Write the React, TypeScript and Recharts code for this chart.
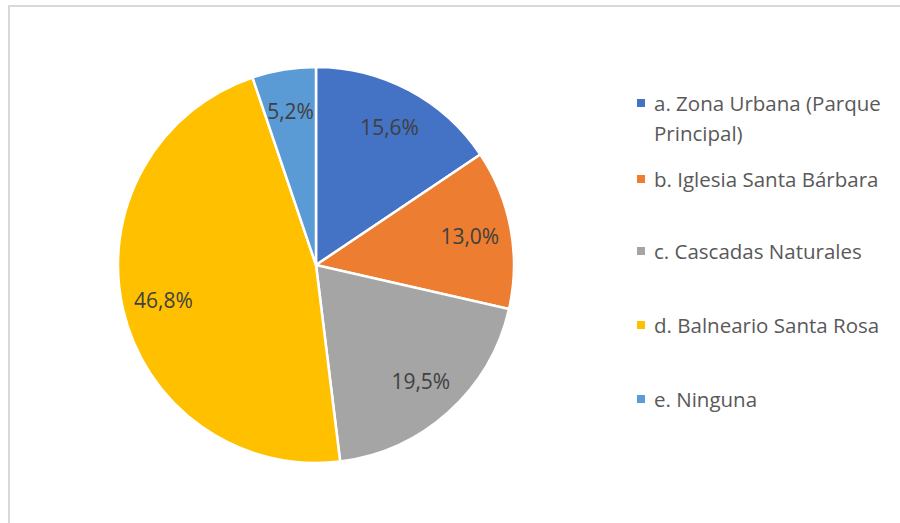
import { Cell, Legend, Pie, PieChart } from "recharts"

const categories = [
  "a. Zona Urbana (Parque Principal)",
  "b. Iglesia Santa Bárbara",
  "c. Cascadas Naturales",
  "d. Balneario Santa Rosa",
  "e. Ninguna",
]
const counts = [12, 10, 15, 36, 4]
const colors = ["#4472C4", "#ED7D31", "#A5A5A5", "#FFC000", "#5B9BD5"]

const total = counts.reduce((a, b) => a + b, 0)
const data = categories.map((name, i) => ({ name, value: counts[i] }))

const RAD = Math.PI / 180

function renderLabel(props: any) {
  const { cx, cy, midAngle, outerRadius, value } = props
  const r = outerRadius * 0.79
  const x = cx + r * Math.cos(-midAngle * RAD)
  const y = cy + r * Math.sin(-midAngle * RAD)
  const pct = ((value / total) * 100).toFixed(1).replace(".", ",") + "%"
  return (
    <text
      x={x}
      y={y}
      fill="#404040"
      fontSize={21}
      fontFamily="'Open Sans', sans-serif"
      textAnchor="middle"
      dominantBaseline="central"
    >
      {pct}
    </text>
  )
}

function LegendBox() {
  const rows = [103, 179, 251, 325, 399]
  return (
    <div style={{ position: "relative", width: 260, height: 340 }}>
      {categories.map((name, i) => (
        <div
          key={name}
          style={{
            position: "absolute",
            left: 0,
            top: rows[i] - 88 - 15,
            display: "flex",
            alignItems: "flex-start",
          }}
        >
          <span
            style={{
              display: "inline-block",
              width: 8,
              height: 8,
              background: colors[i],
              marginTop: 11,
              marginRight: 9,
            }}
          />
          <span
            style={{
              width: 240,
              fontFamily: "'Open Sans', sans-serif",
              fontSize: 20.5,
              lineHeight: "30px",
              color: "#595959",
              whiteSpace: "normal",
            }}
          >
            {name}
          </span>
        </div>
      ))}
    </div>
  )
}

export default function App() {
  return (
    <div style={{ position: "absolute", left: 0, top: 0, width: 900, height: 523, background: "#fff", overflow: "hidden" }}>
      <div
        style={{
          position: "absolute",
          left: 8,
          top: 5,
          width: 950,
          height: 600,
          borderTop: "2px solid #d9d9d9",
          borderLeft: "2px solid #d9d9d9",
        }}
      />
      <div style={{ position: "absolute", left: 0, top: 0 }}>
        <PieChart width={900} height={523} margin={{ top: 0, right: 0, bottom: 0, left: 0 }}>
          <Pie
            data={data}
            dataKey="value"
            nameKey="name"
            cx={316}
            cy={265}
            outerRadius={198}
            startAngle={90}
            endAngle={-270}
            stroke="#ffffff"
            strokeWidth={2.5}
            label={renderLabel}
            labelLine={false}
            isAnimationActive={false}
          >
            {data.map((d, i) => (
              <Cell key={d.name} fill={colors[i]} />
            ))}
          </Pie>
          <Legend
            content={() => <LegendBox />}
            wrapperStyle={{ position: "absolute", left: 637, top: 88, width: 260 }}
          />
        </PieChart>
      </div>
    </div>
  )
}
